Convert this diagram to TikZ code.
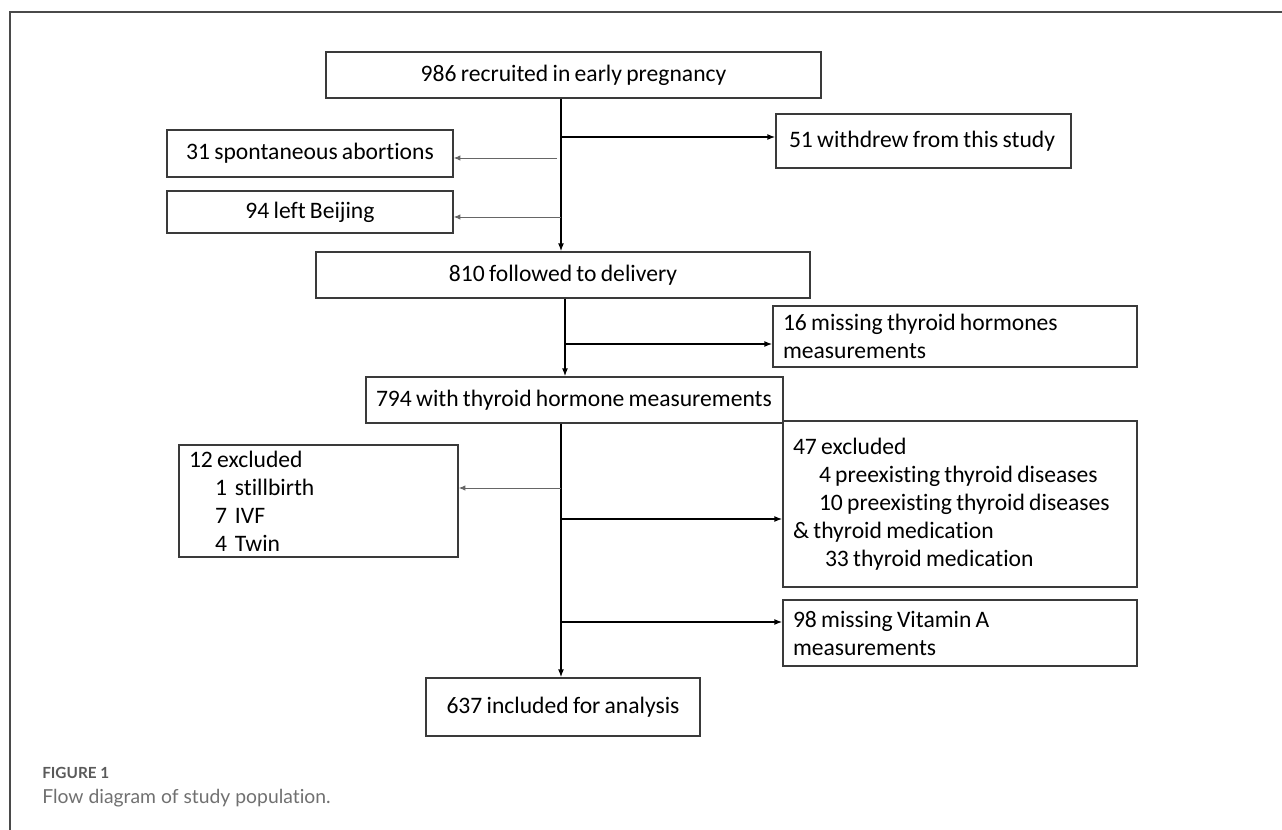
\documentclass[tikz,border=0pt]{standalone}
\usepackage{fontspec}
\setmainfont{Carlito}[Ligatures=NoCommon, WordSpace=0.8]
\newfontfamily\capfont{Lato}[Ligatures=NoCommon]
\usetikzlibrary{arrows.meta}
\definecolor{boxline}{HTML}{3A3A3A}
\definecolor{capgray}{HTML}{707070}
\definecolor{capdark}{HTML}{5A5A5A}
\definecolor{framegray}{HTML}{4A4A4A}
\newcommand{\natsp}{\spaceskip=0pt\xspaceskip=0pt\relax}
\begin{document}
\begin{tikzpicture}[x=0.75pt,y=-0.75pt,
  box/.style={draw=boxline, line width=1pt, inner sep=0pt, text=black,
    font=\fontsize{17.7}{21}\selectfont},
  lbox/.style={box, align=left, inner xsep=7.5pt},
  mainarrow/.style={draw=black, line width=1.1pt, -{Latex[length=6pt,width=4.5pt]}},
  sidearrow/.style={draw=black!60, line width=0.7pt, -{Latex[length=5pt,width=4pt]}}]
\useasboundingbox (0,0) rectangle (1282,830);
% frame
\draw[framegray, line width=1.1pt] (10,830) -- (10,12) -- (1282,12);

% boxes
\node[box, minimum width=371.25pt, minimum height=34.5pt] (A) at (573.5,75) {986 recruited in early pregnancy};
\node[lbox, inner xsep=9.75pt, text width=201.75pt, minimum height=40.5pt] (B) at (923.5,141) {\natsp 51 withdrew from this study};
\node[box, minimum width=214.5pt, minimum height=35.25pt] (S) at (310,153.5) {31 spontaneous abortions};
\node[box, minimum width=214.5pt, minimum height=31.5pt] (L) at (310,212) {94 left Beijing};
\node[box, minimum width=370.5pt, minimum height=34.5pt] (C) at (563,275) {810 followed to delivery};
\node[lbox, text width=258pt, minimum height=45.75pt] (E) at (955,336.5) {\natsp 16 missing thyroid hormones\\measurements};
\node[lbox, text width=297.75pt, minimum height=34.5pt] (D) at (574.5,400) {\natsp\mbox{794 with thyroid hormone measurements}};
\node[lbox, text width=194.25pt, minimum height=84pt] (F) at (318.5,501) {\natsp 12 excluded\\\hspace*{19.5pt}1\hspace{6pt}stillbirth\\\hspace*{19.5pt}7\hspace{6pt}IVF\\\hspace*{19.5pt}4\hspace{6pt}Twin};
\node[lbox, text width=250.5pt, minimum height=124.5pt] (G) at (960,504) {\natsp 47 excluded\\\hspace*{19.5pt}4 preexisting thyroid diseases\\\hspace*{19.5pt}10 preexisting thyroid diseases\\\& thyroid medication\\\hspace*{24pt}33 thyroid medication};
\node[lbox, text width=250.5pt, minimum height=49.5pt] (H) at (960,633) {\natsp 98 missing Vitamin A\\measurements};
\node[box, minimum width=205.5pt, minimum height=43.5pt] (I) at (563,707) {637 included for analysis};

% junction coordinates on the spines
\coordinate (j1) at (561,137);
\coordinate (s1) at (557,158);
\coordinate (s2) at (561,217);
\coordinate (j2) at (565,344);
\coordinate (s3) at (561,488);
\coordinate (j3) at (561,519);
\coordinate (j4) at (561,622);

% spines
\draw[mainarrow] (A.south -| j1) -- (C.north -| j1);
\draw[mainarrow] (C.south -| j2) -- (D.north -| j2);
\draw[mainarrow] (D.south -| j3) -- (I.north -| j3);

% branches
\draw[mainarrow] (j1) -- (B.west |- j1);
\draw[sidearrow] (s1) -- (S.east |- s1);
\draw[sidearrow] (s2) -- (L.east |- s2);
\draw[mainarrow] (j2) -- (E.west |- j2);
\draw[sidearrow] (s3) -- (F.east |- s3);
\draw[mainarrow] (j3) -- (G.west |- j3);
\draw[mainarrow] (j4) -- (H.west |- j4);

% caption
\node[anchor=base west, inner sep=0pt, text=capdark, font=\capfont\bfseries\fontsize{11.5}{13}\selectfont] (fig) at (42,778) {FIGURE 1};
\node[anchor=base west, inner sep=0pt, text=capgray, font=\capfont\fontsize{14.5}{17}\selectfont] (cap) at (42,803) {Flow diagram of study population.};
\end{tikzpicture}
\end{document}
